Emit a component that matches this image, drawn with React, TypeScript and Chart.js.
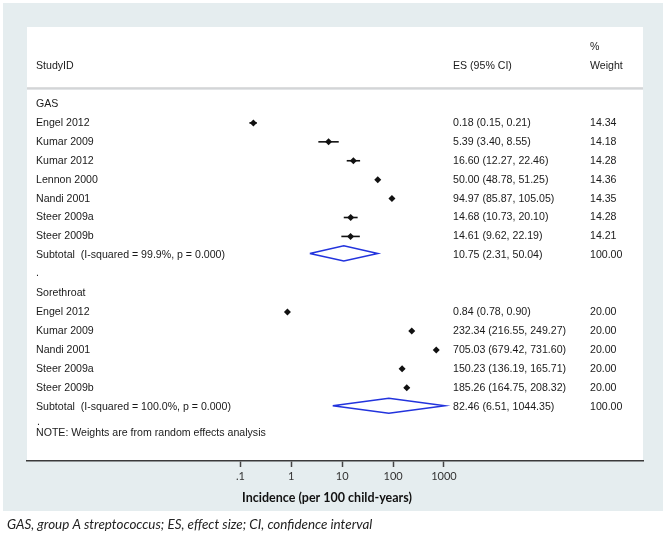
import React, { useEffect, useRef } from 'react';
import { Chart, registerables } from 'chart.js';
Chart.register(...registerables);

// ---- data ----
const gasStudies = ['Engel 2012', 'Kumar 2009', 'Kumar 2012', 'Lennon 2000', 'Nandi 2001', 'Steer 2009a', 'Steer 2009b'];
const gasES = [0.18, 5.39, 16.6, 50.0, 94.97, 14.68, 14.61];
const gasLo = [0.15, 3.4, 12.27, 48.78, 85.87, 10.73, 9.62];
const gasHi = [0.21, 8.55, 22.46, 51.25, 105.05, 20.1, 22.19];
const gasWeight = [14.34, 14.18, 14.28, 14.36, 14.35, 14.28, 14.21];
const gasSubtotal = [10.75, 2.31, 50.04]; // es, lo, hi
const gasSubLabel = 'Subtotal  (I-squared = 99.9%, p = 0.000)';

const soreStudies = ['Engel 2012', 'Kumar 2009', 'Nandi 2001', 'Steer 2009a', 'Steer 2009b'];
const soreES = [0.84, 232.34, 705.03, 150.23, 185.26];
const soreLo = [0.78, 216.55, 679.42, 136.19, 164.75];
const soreHi = [0.9, 249.27, 731.6, 165.71, 208.32];
const soreWeight = [20.0, 20.0, 20.0, 20.0, 20.0];
const soreSubtotal = [82.46, 6.51, 1044.35];
const soreSubLabel = 'Subtotal  (I-squared = 100.0%, p = 0.000)';

const tickValues = [0.1, 1, 10, 100, 1000];
const tickLabels = ['.1', '1', '10', '100', '1000'];
const axisTitle = 'Incidence (per 100 child-years)';
const caption = 'GAS, group A streptococcus; ES, effect size; CI, confidence interval';

const W = 666;
const H = 535;
const BODY = '10.6px "Liberation Sans", Arial, sans-serif';
const TEXT = '#1a1a1a';
const BLUE = '#2233dd';

const gasRows = gasStudies.map((_, i) => 1 + i);
const soreRows = soreStudies.map((_, i) => 11 + i);
const gasSubRow = 8;
const soreSubRow = 16;

const fmt = (v: number) => v.toFixed(2);
const esText = (e: number, l: number, h: number) => `${fmt(e)} (${fmt(l)}, ${fmt(h)})`;

export default function App() {
  const ref = useRef<HTMLCanvasElement>(null);

  useEffect(() => {
    const canvas = ref.current!;

    const ciSets = [
      ...gasRows.map((r, i) => [gasLo[i], gasHi[i], r]),
      ...soreRows.map((r, i) => [soreLo[i], soreHi[i], r]),
    ].map(([lo, hi, r]) => ({
      type: 'scatter' as const,
      data: [{ x: lo, y: r }, { x: hi, y: r }],
      showLine: true,
      borderColor: '#111',
      borderWidth: 1.6,
      pointRadius: 0,
      order: 2,
    }));

    const dh = 0.4;
    const diamond = (s: number[], r: number) => ({
      type: 'scatter' as const,
      data: [
        { x: s[1], y: r },
        { x: s[0], y: r - dh },
        { x: s[2], y: r },
        { x: s[0], y: r + dh },
        { x: s[1], y: r },
      ],
      showLine: true,
      borderColor: BLUE,
      borderWidth: 1.5,
      borderJoinStyle: 'miter' as const,
      pointRadius: 0,
      fill: false,
      tension: 0,
      order: 1,
    });

    const pointSet = {
      type: 'scatter' as const,
      data: [
        ...gasRows.map((r, i) => ({ x: gasES[i], y: r })),
        ...soreRows.map((r, i) => ({ x: soreES[i], y: r })),
      ],
      pointStyle: 'rectRot' as const,
      pointRadius: 3.5,
      backgroundColor: '#111',
      borderColor: '#111',
      borderWidth: 0,
      order: 0,
    };

    const forestPlugin = {
      id: 'forestText',
      beforeDraw(chart: any) {
        const ctx = chart.ctx as CanvasRenderingContext2D;
        const { left, right, top, bottom } = chart.chartArea;
        ctx.save();
        ctx.fillStyle = '#ffffff';
        ctx.fillRect(0, 0, W, H);
        ctx.fillStyle = '#e5edef';
        ctx.fillRect(3, 3, 660, 508);
        ctx.fillStyle = '#ffffff';
        ctx.fillRect(left, top, right - left, bottom - top);
        const ys = Math.round(chart.scales.y.getPixelForValue(-0.85));
        ctx.fillStyle = '#b9bcbe';
        ctx.fillRect(left, ys - 0.5, right - left, 1.2);
        ctx.fillStyle = '#dfe2e4';
        ctx.fillRect(left, ys + 0.7, right - left, 1.2);
        ctx.restore();
      },
      afterDraw(chart: any) {
        const ctx = chart.ctx as CanvasRenderingContext2D;
        const { left, bottom } = chart.chartArea;
        const y = chart.scales.y;
        const xLab = left + 9;
        const xES = left + 426;
        const xW = left + 563;
        ctx.save();
        ctx.fillStyle = TEXT;
        ctx.font = BODY;
        ctx.textBaseline = 'middle';
        ctx.textAlign = 'left';
        const put = (t: string, x: number, row: number) => ctx.fillText(t, x, y.getPixelForValue(row));
        put('%', xW, -3);
        put('StudyID', xLab, -2);
        put('ES (95% CI)', xES, -2);
        put('Weight', xW, -2);
        put('GAS', xLab, 0);
        gasRows.forEach((r, i) => {
          put(gasStudies[i], xLab, r);
          put(esText(gasES[i], gasLo[i], gasHi[i]), xES, r);
          put(fmt(gasWeight[i]), xW, r);
        });
        put(gasSubLabel, xLab, gasSubRow);
        put(esText(gasSubtotal[0], gasSubtotal[1], gasSubtotal[2]), xES, gasSubRow);
        put('100.00', xW, gasSubRow);
        put('Sorethroat', xLab, 10);
        soreRows.forEach((r, i) => {
          put(soreStudies[i], xLab, r);
          put(esText(soreES[i], soreLo[i], soreHi[i]), xES, r);
          put(fmt(soreWeight[i]), xW, r);
        });
        put(soreSubLabel, xLab, soreSubRow);
        put(esText(soreSubtotal[0], soreSubtotal[1], soreSubtotal[2]), xES, soreSubRow);
        put('100.00', xW, soreSubRow);
        put('NOTE: Weights are from random effects analysis', xLab, 17.37);
        ctx.textBaseline = 'alphabetic';
        ctx.fillText('.', xLab, y.getPixelForValue(9) + 1.5);
        ctx.fillText('.', xLab + 1, y.getPixelForValue(16.91) + 1.5);
        // axis title
        ctx.font = 'bold 12.5px Lato, sans-serif';
        ctx.textBaseline = 'middle';
        ctx.textAlign = 'center';
        ctx.fillStyle = '#111';
        ctx.fillText(axisTitle, 327, bottom + 37);
        // caption
        ctx.font = 'italic 13.4px Lato, sans-serif';
        ctx.textAlign = 'left';
        ctx.fillStyle = '#222';
        ctx.fillText(caption, 7, 525);
        ctx.restore();
      },
    };

    const chart = new Chart(canvas, {
      type: 'scatter',
      data: {
        datasets: [pointSet, diamond(gasSubtotal, gasSubRow - 0.1), diamond(soreSubtotal, soreSubRow - 0.05), ...ciSets] as any,
      },
      options: {
        animation: false,
        responsive: false,
        devicePixelRatio: 1,
        layout: { padding: { left: 27, right: 23, top: 27, bottom: 24 } },
        plugins: { legend: { display: false }, tooltip: { enabled: false } },
        scales: {
          x: {
            type: 'logarithmic',
            position: 'bottom',
            bounds: 'data',
            min: Math.pow(10, -5.193),
            max: Math.pow(10, 6.91),
            afterBuildTicks: (scale: any) => {
              scale.ticks = tickValues.map((v) => ({ value: v }));
            },
            afterFit: (scale: any) => {
              scale.height = 50;
            },
            grid: {
              display: true,
              drawOnChartArea: false,
              drawTicks: true,
              tickLength: 6,
              tickWidth: 1.5,
              tickColor: '#444',
            },
            border: { display: true, color: '#3a3a3a', width: 1.6 },
            ticks: {
              autoSkip: false,
              maxRotation: 0,
              padding: 3,
              color: '#333',
              font: { family: 'Lato, sans-serif', size: 11 },
              callback: (_v: any, i: number) => tickLabels[i],
            },
            title: { display: false },
          },
          y: {
            type: 'linear',
            display: false,
            reverse: true,
            min: -4.07,
            max: 18.87,
          },
        },
      },
      plugins: [forestPlugin],
    } as any);

    return () => chart.destroy();
  }, []);

  return (
    <div style={{ position: 'fixed', left: 0, top: 0, width: W, height: H, background: '#fff' }}>
      <canvas ref={ref} width={W} height={H} style={{ display: 'block', width: W, height: H }} />
    </div>
  );
}
